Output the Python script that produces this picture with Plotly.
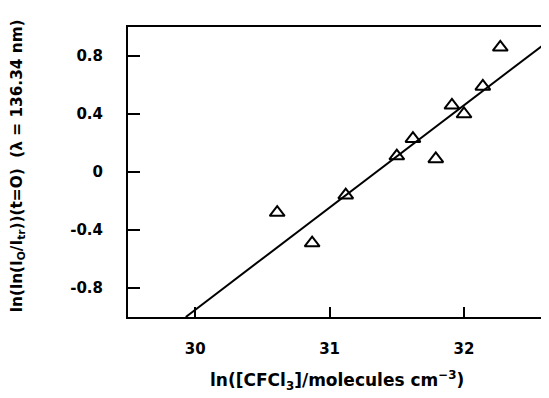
import plotly.graph_objects as go

x_vals = [30.61, 30.87, 31.12, 31.50, 31.62, 31.79, 31.91, 32.00, 32.14, 32.27]
y_vals = [-0.28, -0.49, -0.16, 0.11, 0.23, 0.09, 0.46, 0.40, 0.59, 0.86]
fit_x = [29.93, 32.61]
fit_y = [-1.0, 0.89]
x_ticks = [30, 31, 32]
x_tick_labels = ["30", "31", "32"]
y_ticks = [-0.8, -0.4, 0, 0.4, 0.8]
y_tick_labels = ["-0.8", "-0.4", "0", "0.4", "0.8"]

font_fam = "DejaVu Sans, Arial, sans-serif"

fig = go.Figure()
fig.add_trace(go.Scatter(x=fit_x, y=fit_y, mode="lines",
                         line=dict(color="black", width=2), showlegend=False))
fig.add_trace(go.Scatter(x=x_vals, y=y_vals, mode="markers",
                         marker=dict(symbol="triangle-up-open", size=13,
                                     color="black", line=dict(width=2, color="black")),
                         showlegend=False))

fig.update_layout(
    width=541, height=390,
    margin=dict(l=120, r=1, t=19, b=81),
    paper_bgcolor="white", plot_bgcolor="white",
    font=dict(family=font_fam, color="black", size=15, weight="bold"),
    xaxis=dict(range=[29.5, 32.61], tickvals=x_ticks, ticktext=x_tick_labels,
               ticks="inside", ticklen=10,
               tickwidth=1.5, tickcolor="black", showline=True, linecolor="black",
               linewidth=2, mirror=True, showgrid=False, zeroline=False,
               tickfont=dict(size=15, family=font_fam, color="black", weight="bold"),
               ticklabelstandoff=17),
    yaxis=dict(range=[-1.0, 1.0], tickvals=y_ticks, ticktext=y_tick_labels,
               ticks="inside", ticklen=12, tickwidth=1.5, tickcolor="black",
               showline=True, linecolor="black", linewidth=2, mirror=True,
               showgrid=False, zeroline=False,
               tickfont=dict(size=15, family=font_fam, color="black", weight="bold"),
               ticklabelstandoff=20),
    annotations=[
        dict(text="ln([CFCl<sub>3</sub>]/molecules cm<sup>−3</sup>)",
             xref="paper", yref="paper", x=0.5, y=0, yshift=-63,
             showarrow=False, xanchor="center", yanchor="middle",
             font=dict(size=17, family=font_fam, weight="bold")),
        dict(text="ln(ln(I<sub>O</sub>/I<sub>tr</sub>))(t=O)  (λ = 136.34 nm)",
             xref="paper", yref="paper", x=0, y=0.52, xshift=-110,
             showarrow=False, textangle=-90, xanchor="center", yanchor="middle",
             font=dict(size=15.3, family=font_fam, weight="bold")),
    ],
)

fig.write_html("out.html")
